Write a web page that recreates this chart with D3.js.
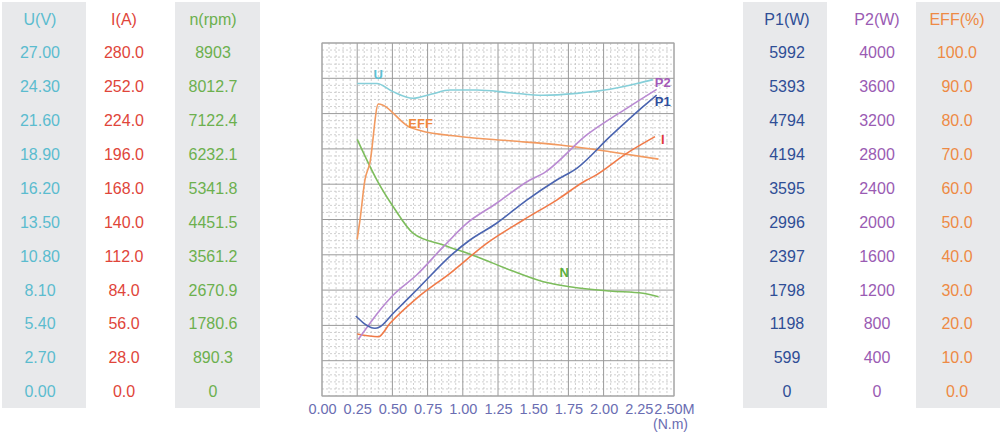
<!DOCTYPE html>
<html>
<head>
<meta charset="utf-8">
<script src="https://cdn.jsdelivr.net/npm/d3@7"></script>
<style>
  html, body { margin: 0; padding: 0; background: #ffffff; }
  svg { display: block; font-family: "Liberation Sans", Arial, sans-serif; }
</style>
</head>
<body>
<svg id="chart" width="1000" height="433"></svg>
<script>
// ---------- Table tick labels ----------
const uTicks   = ["27.00","24.30","21.60","18.90","16.20","13.50","10.80","8.10","5.40","2.70","0.00"];
const iTicks   = ["280.0","252.0","224.0","196.0","168.0","140.0","112.0","84.0","56.0","28.0","0.0"];
const nTicks   = ["8903","8012.7","7122.4","6232.1","5341.8","4451.5","3561.2","2670.9","1780.6","890.3","0"];
const p1Ticks  = ["5992","5393","4794","4194","3595","2996","2397","1798","1198","599","0"];
const p2Ticks  = ["4000","3600","3200","2800","2400","2000","1600","1200","800","400","0"];
const effTicks = ["100.0","90.0","80.0","70.0","60.0","50.0","40.0","30.0","20.0","10.0","0.0"];
const xTicks   = [0, 0.25, 0.5, 0.75, 1.0, 1.25, 1.5, 1.75, 2.0, 2.25, 2.5];

// ---------- Series (torque in N.m, values in units) ----------
const torqueU  = [0.25, 0.39, 0.50, 0.646, 0.78, 0.909, 1.10, 1.335, 1.57, 1.81, 2.045, 2.237, 2.35];
const voltage  = [23.9, 23.9, 23.3, 22.77, 23.1, 23.4, 23.4, 23.2, 23.0, 23.15, 23.46, 23.9, 24.2];

const torqueI  = [0.25, 0.40, 0.483, 0.672, 0.909, 1.17, 1.43, 1.667, 1.88, 1.927, 2.164, 2.365];
const current  = [49.2, 47.0, 57.7, 77.5, 97.3, 121.1, 139.6, 155.4, 171.3, 174.0, 192.5, 205.7];

const torqueN  = [0.25, 0.39, 0.506, 0.648, 0.862, 1.10, 1.335, 1.572, 1.76, 2.045, 2.28, 2.39];
const speed    = [6474, 5447, 4774, 4103, 3808, 3513, 3178, 2883, 2757, 2648, 2590, 2505];

const torqueP1 = [0.24, 0.376, 0.412, 0.506, 0.672, 0.932, 1.051, 1.24, 1.454, 1.667, 1.809, 2.045, 2.28, 2.377];
const power1   = [1358, 1149, 1176, 1404, 1799, 2422, 2648, 2932, 3326, 3666, 3865, 4402, 4911, 5109];

const torqueP2 = [0.258, 0.341, 0.412, 0.506, 0.672, 0.862, 1.028, 1.24, 1.477, 1.572, 1.88, 2.164, 2.377];
const power2   = [642, 824, 974, 1144, 1371, 1692, 1957, 2184, 2448, 2523, 2958, 3260, 3475];

const torqueE  = [0.25, 0.27, 0.305, 0.34, 0.40, 0.625, 0.696, 0.98, 1.335, 1.69, 2.045, 2.39];
const eff      = [44.4, 49.9, 61.2, 66.0, 82.7, 76.1, 75.2, 73.5, 72.3, 71.1, 69.2, 67.1];

// ---------- Layout ----------
const svg = d3.select("#chart");
const X0 = 322, X1 = 674, Y0 = 396, Y1 = 43;

const x = d3.scaleLinear().domain([0, 2.5]).range([X0, X1]);
const yU   = d3.scaleLinear().domain([0, 27]).range([Y0, Y1]);
const yI   = d3.scaleLinear().domain([0, 280]).range([Y0, Y1]);
const yN   = d3.scaleLinear().domain([0, 8903]).range([Y0, Y1]);
const yP1  = d3.scaleLinear().domain([0, 5992]).range([Y0, Y1]);
const yP2  = d3.scaleLinear().domain([0, 4000]).range([Y0, Y1]);
const yE   = d3.scaleLinear().domain([0, 100]).range([Y0, Y1]);
const yGrid = d3.scaleLinear().domain([0, 10]).range([Y0, Y1]);

// ---------- Side tables ----------
const rowY = d3.scaleLinear().domain([0, 10]).range([54, 393]);
const panelFill = "#e8e9eb";
const columns = [
  {title: "U(V)",     ticks: uTicks,   cx: 40,  color: "#5bbccf", panel: [2, 86]},
  {title: "I(A)",     ticks: iTicks,   cx: 124, color: "#e0453a", panel: null},
  {title: "n(rpm)",   ticks: nTicks,   cx: 213, color: "#6cb04e", panel: [175, 260]},
  {title: "P1(W)",    ticks: p1Ticks,  cx: 787, color: "#2f4e96", panel: [743, 827]},
  {title: "P2(W)",    ticks: p2Ticks,  cx: 877, color: "#9a5bb3", panel: null},
  {title: "EFF(%)",   ticks: effTicks, cx: 957, color: "#ee8a44", panel: [916, 1000]}
];
columns.forEach(c => {
  if (c.panel) {
    svg.append("rect").attr("x", c.panel[0]).attr("y", 2)
      .attr("width", c.panel[1] - c.panel[0]).attr("height", 406)
      .attr("fill", panelFill);
  }
  svg.append("text").attr("x", c.cx).attr("y", 21)
    .attr("text-anchor", "middle").attr("dominant-baseline", "middle")
    .attr("font-size", 16).attr("fill", c.color).text(c.title);
  svg.selectAll(null).data(c.ticks).enter().append("text")
    .attr("x", c.cx).attr("y", (d, i) => rowY(i))
    .attr("text-anchor", "middle").attr("dominant-baseline", "middle")
    .attr("font-size", 16).attr("fill", c.color).text(d => d);
});

// ---------- Grid ----------
const g = svg.append("g");
g.append("rect").attr("x", X0).attr("y", Y1).attr("width", X1 - X0).attr("height", Y0 - Y1)
  .attr("fill", "#ffffff");
const minor = d3.range(0, 50.001, 1);
g.selectAll(".mv").data(minor.filter(v => v % 5 !== 0)).enter().append("line")
  .attr("x1", d => x(d * 0.05)).attr("x2", d => x(d * 0.05))
  .attr("y1", Y1).attr("y2", Y0)
  .attr("stroke", "#c4c4c4").attr("stroke-width", 0.8).attr("stroke-dasharray", "2,2");
g.selectAll(".mh").data(minor.filter(v => v % 5 !== 0)).enter().append("line")
  .attr("y1", d => yGrid(d / 5)).attr("y2", d => yGrid(d / 5))
  .attr("x1", X0).attr("x2", X1)
  .attr("stroke", "#c4c4c4").attr("stroke-width", 0.8).attr("stroke-dasharray", "2,2");
g.selectAll(".Mv").data(xTicks).enter().append("line")
  .attr("x1", d => x(d)).attr("x2", d => x(d)).attr("y1", Y1).attr("y2", Y0)
  .attr("stroke", "#9a9a9a").attr("stroke-width", 1);
g.selectAll(".Mh").data(d3.range(0, 11)).enter().append("line")
  .attr("y1", d => yGrid(d)).attr("y2", d => yGrid(d)).attr("x1", X0).attr("x2", X1)
  .attr("stroke", "#9a9a9a").attr("stroke-width", 1);
g.append("rect").attr("x", X0).attr("y", Y1).attr("width", X1 - X0).attr("height", Y0 - Y1)
  .attr("fill", "none").attr("stroke", "#a8a8a8").attr("stroke-width", 1);

// ---------- X axis ----------
const axis = svg.append("g").attr("transform", `translate(0,${Y0})`)
  .call(d3.axisBottom(x).tickValues(xTicks).tickSize(0).tickPadding(8)
    .tickFormat(d => d === 2.5 ? "2.50M" : d3.format(".2f")(d)));
axis.select(".domain").remove();
axis.selectAll("text").attr("font-size", 14.5).attr("fill", "#6a6db2")
  .attr("font-family", "'Liberation Sans', Arial, sans-serif");
svg.append("text").attr("x", 688).attr("y", 425).attr("text-anchor", "end")
  .attr("dominant-baseline", "middle").attr("font-size", 14).attr("fill", "#6a6db2").text("(N.m)");

// ---------- Curves ----------
function drawSeries(tq, vals, ys, color) {
  const pts = tq.map((t, i) => [t, vals[i]]);
  svg.append("path").datum(pts)
    .attr("d", d3.line().x(d => x(d[0])).y(d => ys(d[1])).curve(d3.curveMonotoneX))
    .attr("fill", "none").attr("stroke", color).attr("stroke-width", 1.6)
    .attr("stroke-linejoin", "round");
}
drawSeries(torqueN, speed, yN, "#7dbd5c");
drawSeries(torqueU, voltage, yU, "#86cfd9");
drawSeries(torqueE, eff, yE, "#f29a60");
drawSeries(torqueI, current, yI, "#f07a48");
drawSeries(torqueP2, power2, yP2, "#b98ad2");
drawSeries(torqueP1, power1, yP1, "#4a64b0");

// ---------- Curve labels ----------
const labels = [
  {t: "U",   tx: 0.40, v: 24.5,  ys: yU,  color: "#5cc0d2"},
  {t: "EFF", tx: 0.70, v: 76.8,  ys: yE,  color: "#f08a40"},
  {t: "N",   tx: 1.72, v: 3100,  ys: yN,  color: "#5aae3c"},
  {t: "P2",  tx: 2.42, v: 3546,  ys: yP2, color: "#a45ab8"},
  {t: "P1",  tx: 2.42, v: 4975,  ys: yP1, color: "#2f4e9c"},
  {t: "I",   tx: 2.42, v: 203,   ys: yI,  color: "#e23b3b"}
];
svg.selectAll(".lbl").data(labels).enter().append("text")
  .attr("x", d => x(d.tx)).attr("y", d => d.ys(d.v))
  .attr("text-anchor", "middle").attr("dominant-baseline", "middle")
  .attr("font-size", 13).attr("font-weight", "bold").attr("fill", d => d.color)
  .text(d => d.t);
</script>
</body>
</html>
